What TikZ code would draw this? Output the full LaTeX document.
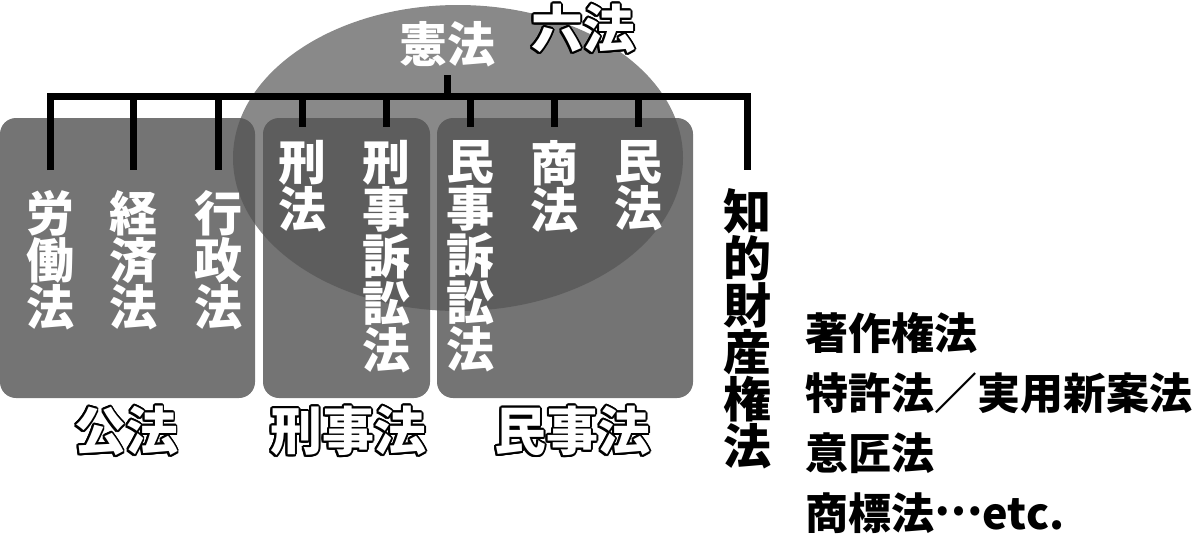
\documentclass[tikz,border=0pt]{standalone}
\usepackage{fontspec}
\setmainfont{Noto Sans CJK JP}
\usepackage{contour}
\contourlength{1pt}
\usetikzlibrary{positioning}

\definecolor{boxgray}{HTML}{747474}
\definecolor{sixgray}{HTML}{545454}

\tikzset{
  lawcol/.style={anchor=north, inner sep=0pt, align=center, text=white,
    font=\bfseries\fontsize{24pt}{23.5pt}\selectfont},
  branch/.style={line width=3.5pt},
  group/.style={inner sep=0pt, text=white, font=\bfseries\fontsize{26pt}{26pt}\selectfont},
  item/.style={anchor=west, inner sep=0pt, font=\bfseries\fontsize{21.5pt}{21.5pt}\selectfont},
}

\begin{document}
\begin{tikzpicture}[x=0.5pt, y=-0.5pt]
    \useasboundingbox (0,0) rectangle (1200,547);

    % groups and the six codes
    \fill[boxgray, rounded corners=8pt] (0,118) rectangle (255,398);
    \fill[boxgray, rounded corners=8pt] (263,118) rectangle (430,398);
    \fill[boxgray, rounded corners=8pt] (437,118) rectangle (693,398);
    \fill[sixgray, opacity=0.69] (458,158) ellipse [x radius=225, y radius=153];

    \node[lawcol, anchor=center] (kenpo) at (447,44) {憲法};

    \node[lawcol] (rodo) at (50,190) {労\\働\\法};
    \node[lawcol] (keizai) at (133,190) {経\\済\\法};
    \node[lawcol] (gyosei) at (218,190) {行\\政\\法};
    \node[lawcol] (keiho) at (302,140) {刑\\法};
    \node[lawcol] (keiso) at (386,140) {刑\\事\\訴\\訟\\法};
    \node[lawcol] (minso) at (470,140) {民\\事\\訴\\訟\\法};
    \node[lawcol] (shoho) at (554,140) {商\\法};
    \node[lawcol] (minpo) at (638,140) {民\\法};
    \node[lawcol, text=black] (chizai) at (747,188) {知\\的\\財\\産\\権\\法};

    % tree
    \coordinate (bar) at (0,96.5);
    \coordinate (stub) at (447,75);
    \draw[branch] (stub) -- (stub |- bar);
    \draw[branch] ([yshift=10pt]rodo.north) -- (rodo |- bar) -- (chizai |- bar) -- ([yshift=9pt]chizai.north);
    \foreach \n in {keizai, gyosei}
        \draw[branch] (\n |- bar) -- ([yshift=10pt]\n.north);
    \foreach \n in {keiho, keiso, minso, shoho, minpo}
        \draw[branch] (\n |- bar) -- ([yshift=6.5pt]\n.north);

    \node[group] (koho) at (126,432) {\contour{black}{公法}};
    \node[group] (keijiho) at (348,432) {\contour{black}{刑事法}};
    \node[group] (minjiho) at (572,432) {\contour{black}{民事法}};
    \node[group] (roppo) at (583,30) {\contour{black}{六法}};

    \node[item] (chosaku) at (805,333) {著作権法};
    \node[item] (tokkyo) at (805,393) {特許法／実用新案法};
    \node[item] (isho) at (805,453) {意匠法};
    \node[item] (shohyo) at (805,513) {商標法\raisebox{0.33em}{…}etc.};
\end{tikzpicture}
\end{document}
